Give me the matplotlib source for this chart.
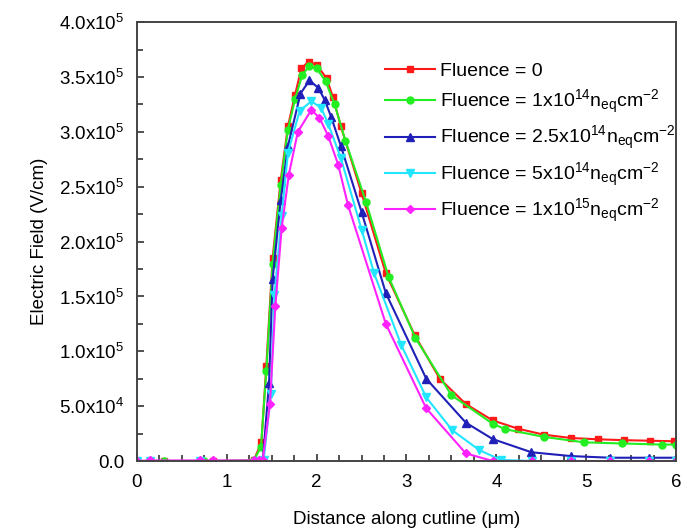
import matplotlib
matplotlib.use("Agg")
import matplotlib.pyplot as plt
from matplotlib.ticker import MultipleLocator, FixedLocator, FixedFormatter

plt.rcParams['font.family'] = ['Liberation Sans', 'DejaVu Sans']
plt.rcParams['mathtext.fontset'] = 'custom'
plt.rcParams['mathtext.rm'] = 'Liberation Sans'
plt.rcParams['mathtext.default'] = 'regular'

# ---- data (x in um, E in 1e5 V/cm) ----
x_f0 = [0.0, 0.15, 0.3, 0.7, 0.85, 1.3, 1.385, 1.44, 1.51, 1.60, 1.68, 1.76, 1.83, 1.91, 2.0,
        2.11, 2.18, 2.27, 2.50, 2.77, 3.09, 3.37, 3.66, 3.96, 4.24, 4.53, 4.83, 5.13, 5.42, 5.71, 5.98]
e_f0 = [0, 0, 0, 0, 0, 0.005, 0.17, 0.87, 1.85, 2.56, 3.05, 3.34, 3.58, 3.64, 3.61,
        3.49, 3.32, 3.05, 2.44, 1.71, 1.15, 0.75, 0.52, 0.37, 0.295, 0.24, 0.21, 0.198, 0.19, 0.185, 0.18]

x_f1 = [0.0, 0.3, 0.75, 1.3, 1.38, 1.44, 1.51, 1.60, 1.68, 1.76, 1.84, 1.92, 2.0, 2.10, 2.20,
        2.32, 2.55, 2.8, 3.1, 3.5, 3.96, 4.10, 4.53, 4.98, 5.40, 5.84, 6.0]
e_f1 = [0, 0, 0, 0.005, 0.13, 0.82, 1.80, 2.52, 3.02, 3.30, 3.52, 3.60, 3.58, 3.46, 3.25,
        2.92, 2.36, 1.68, 1.12, 0.60, 0.34, 0.29, 0.22, 0.17, 0.16, 0.15, 0.15]

x_f25 = [0.0, 0.15, 0.85, 1.35, 1.40, 1.47, 1.51, 1.60, 1.68, 1.82, 1.92, 2.02, 2.09, 2.16, 2.27,
         2.50, 2.77, 3.22, 3.66, 3.96, 4.39, 4.83, 5.27, 5.70, 6.0]
e_f25 = [0, 0, 0, 0, 0.0, 0.71, 1.66, 2.38, 2.87, 3.35, 3.47, 3.40, 3.29, 3.14, 2.87,
         2.27, 1.53, 0.75, 0.35, 0.20, 0.08, 0.045, 0.03, 0.03, 0.03]

x_f5 = [0.0, 0.15, 0.7, 1.35, 1.41, 1.49, 1.53, 1.61, 1.68, 1.81, 1.94, 2.05, 2.13, 2.27, 2.50,
        2.64, 2.94, 3.22, 3.51, 3.81, 4.05, 4.4, 4.83, 5.27, 5.70, 6.0]
e_f5 = [0, 0, 0, 0, 0.01, 0.61, 1.51, 2.23, 2.81, 3.19, 3.28, 3.22, 3.07, 2.76, 2.11,
        1.71, 1.06, 0.58, 0.28, 0.10, 0.01, 0, 0, 0, 0, 0]

x_f10 = [0.0, 0.15, 0.7, 0.85, 1.3, 1.36, 1.40, 1.48, 1.54, 1.61, 1.69, 1.79, 1.94, 2.03, 2.13,
         2.24, 2.35, 2.77, 3.22, 3.66, 3.96, 4.4, 4.83, 5.27, 5.70, 6.0]
e_f10 = [0, 0.005, 0.005, 0.005, 0.005, 0.01, 0.01, 0.52, 1.41, 2.12, 2.61, 3.0, 3.20, 3.13, 2.96,
         2.70, 2.33, 1.25, 0.48, 0.07, 0.0, 0, 0, 0, 0, 0]

labels = ['Fluence = 0',
          'Fluence = 1x10$^{14}$n$_{eq}$cm$^{-2}$',
          'Fluence = 2.5x10$^{14}$n$_{eq}$cm$^{-2}$',
          'Fluence = 5x10$^{14}$n$_{eq}$cm$^{-2}$',
          'Fluence = 1x10$^{15}$n$_{eq}$cm$^{-2}$']
colors = ['#ff1a1a', '#22ee22', '#2020b8', '#22e6ff', '#ff22ff']
markers = ['s', 'o', '^', 'v', 'D']
msizes = [4.5, 5, 6, 6, 4.5]

yticks = [0, 0.5e5, 1.0e5, 1.5e5, 2.0e5, 2.5e5, 3.0e5, 3.5e5, 4.0e5]
ytick_labels = ['0.0', '5.0x10$^{4}$', '1.0x10$^{5}$', '1.5x10$^{5}$', '2.0x10$^{5}$',
                '2.5x10$^{5}$', '3.0x10$^{5}$', '3.5x10$^{5}$', '4.0x10$^{5}$']

fig = plt.figure(figsize=(6.87, 5.29), dpi=100)
ax = fig.add_axes([0.1994, 0.1285, 0.7846, 0.8295])

series = [(x_f0, e_f0), (x_f1, e_f1), (x_f25, e_f25), (x_f5, e_f5), (x_f10, e_f10)]
for (xs, es), lab, c, m, ms in zip(series, labels, colors, markers, msizes):
    ax.plot(xs, [v * 1e5 for v in es], color=c, marker=m, markersize=ms, lw=1.5, label=lab)

ax.set_xlim(0, 6)
ax.set_ylim(0, 4.0e5)
ax.xaxis.set_major_locator(MultipleLocator(1))
ax.xaxis.set_minor_locator(MultipleLocator(0.25))
ax.yaxis.set_major_locator(FixedLocator(yticks))
ax.yaxis.set_major_formatter(FixedFormatter(ytick_labels))
ax.yaxis.set_minor_locator(MultipleLocator(0.25e5))
ax.tick_params(which='both', direction='in', color='#333333', width=1.2)
ax.tick_params(which='major', length=5, labelsize=13.5, pad=9)
ax.tick_params(which='minor', length=4)
for s in ax.spines.values():
    s.set_linewidth(1.4)
    s.set_color('#444444')

ax.set_xlabel('Distance along cutline (\u03bcm)', fontsize=13.5, labelpad=15)
ax.set_ylabel('Electric Field (V/cm)', fontsize=13.5, labelpad=8)

ax.legend(loc='upper right', bbox_to_anchor=(1.025, 0.94), frameon=False, fontsize=14,
          handlelength=2.6, handletextpad=0.25, labelspacing=0.42, borderaxespad=0.3)

fig.savefig('out.png', dpi=100)
